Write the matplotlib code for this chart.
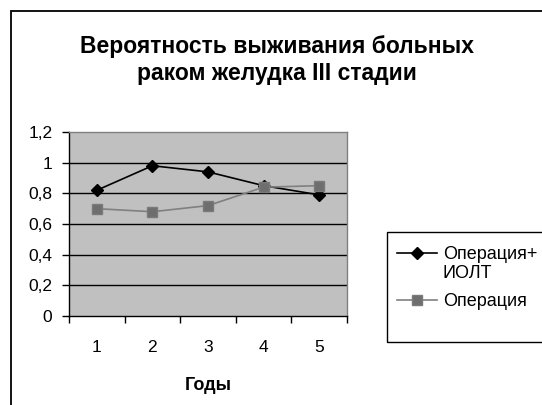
import matplotlib
matplotlib.use("Agg")
import matplotlib.pyplot as plt
from matplotlib.patches import Rectangle
from matplotlib.lines import Line2D

plt.rcParams['font.family'] = ['Liberation Sans', 'DejaVu Sans']

years = [1, 2, 3, 4, 5]
year_labels = ['1', '2', '3', '4', '5']
surv_op_iolt = [0.82, 0.98, 0.94, 0.85, 0.79]
surv_op = [0.70, 0.68, 0.72, 0.84, 0.85]
series_names = ['Операция+\nИОЛТ', 'Операция']
y_ticks = [0, 0.2, 0.4, 0.6, 0.8, 1.0, 1.2]
y_tick_labels = ['0', '0,2', '0,4', '0,6', '0,8', '1', '1,2']
title = 'Вероятность выживания больных\nраком желудка III стадии'
x_title = 'Годы'

W, H = 542, 405
fig = plt.figure(figsize=(W / 100, H / 100), dpi=100)

# outer chart frame (runs off the right and bottom edges)
fig.patches.append(Rectangle((11 / W, -0.1), 1.2, 1 - 11 / H + 0.1,
                             transform=fig.transFigure, fill=False,
                             edgecolor='black', linewidth=1.3, zorder=0))

ax = fig.add_axes([69 / W, 1 - 316 / H, (347 - 69) / W, (316 - 132) / H])
ax.set_facecolor('#C0C0C0')

black_style = dict(color='black', linewidth=1.2, marker='D', markersize=6,
                   markerfacecolor='black', markeredgecolor='black')
gray_style = dict(color='#808080', linewidth=1.2, marker='s', markersize=7.5,
                  markerfacecolor='#6E6E6E', markeredgecolor='#7A7A7A')

ax.plot(years, surv_op_iolt, zorder=3, **black_style)
ax.plot(years, surv_op, zorder=3, **gray_style)

ax.set_xlim(0.5, 5.5)
ax.set_ylim(0, 1.2)
ax.set_yticks(y_ticks)
ax.set_yticklabels(y_tick_labels)
ax.set_xticks(years)
ax.set_xticklabels(year_labels)
ax.set_xticks([x + 0.5 for x in [0] + years], minor=True)
ax.tick_params(axis='x', which='major', length=0, pad=17, labelsize=12.5)
ax.tick_params(axis='x', which='minor', length=5, width=1, direction='out')
ax.tick_params(axis='y', length=5, width=1, direction='out', pad=7, labelsize=12.5)

for v in y_ticks[1:-1]:
    ax.axhline(v, color='black', linewidth=1, zorder=1)

ax.spines['left'].set_color('black')
ax.spines['bottom'].set_color('black')
ax.spines['top'].set_color('#808080')
ax.spines['right'].set_color('#808080')
for s in ax.spines.values():
    s.set_linewidth(1)

ax.set_xlabel(x_title, fontsize=13, fontweight='bold', labelpad=16)

fig.text(277 / W, 1 - 60 / H, title, ha='center', va='center',
         fontsize=16.5, fontweight='bold', linespacing=1.25)

# legend frame and entries
fig.patches.append(Rectangle((387 / W, 1 - 342 / H), 1.0, (342 - 232) / H,
                             transform=fig.transFigure, fill=False,
                             edgecolor='black', linewidth=1, zorder=0))
legend_rows = [(253, black_style, 0), (300, gray_style, 1)]
for y, style, i in legend_rows:
    yf = 1 - y / H
    fig.lines.append(Line2D([397 / W, 437 / W], [yf, yf], transform=fig.transFigure,
                            color=style['color'], linewidth=style['linewidth']))
    fig.lines.append(Line2D([417 / W], [yf], transform=fig.transFigure,
                            linestyle='none', marker=style['marker'],
                            markersize=style['markersize'],
                            markerfacecolor=style['markerfacecolor'],
                            markeredgecolor=style['markeredgecolor']))
    fig.text(443 / W, yf + 7 / H, series_names[i], ha='left', va='top',
             fontsize=13, linespacing=1.15)

fig.savefig('out.png', dpi=100)
